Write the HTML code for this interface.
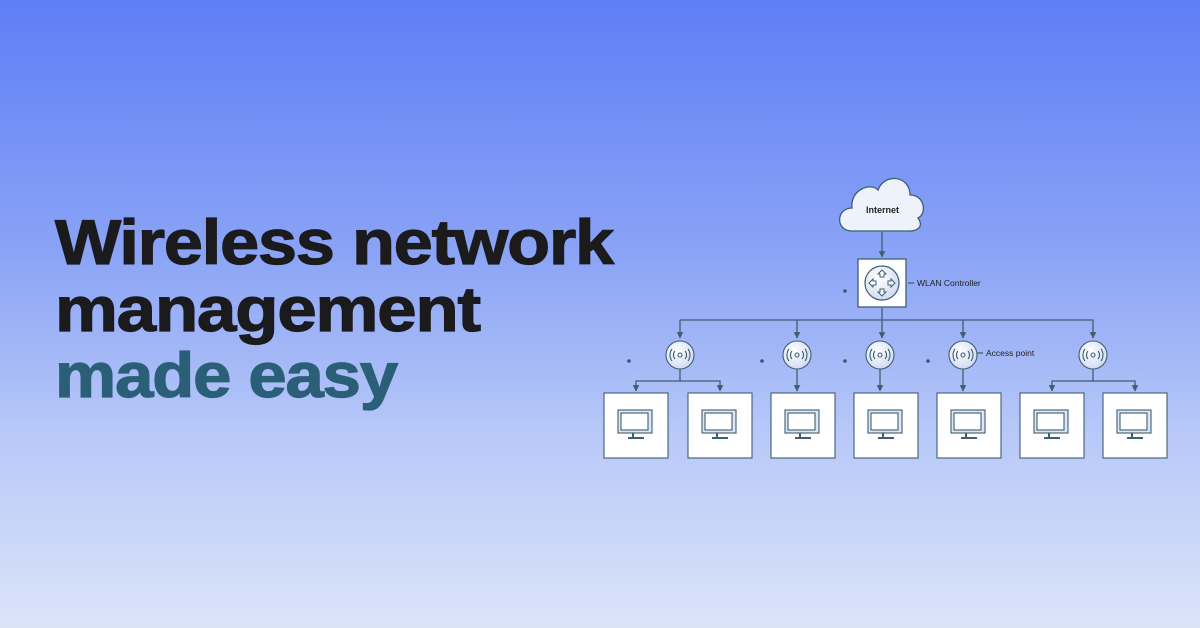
<!DOCTYPE html>
<html><head><meta charset="utf-8"><style>
html,body{margin:0;padding:0}
body{width:1200px;height:628px;overflow:hidden;background:linear-gradient(180deg,#5e7ef6 0%,#8aa3f6 40%,#b9c9f8 70%,#dbe4f9 100%);font-family:"Liberation Sans",sans-serif}
</style></head><body>
<svg width="1200" height="628" viewBox="0 0 1200 628" xmlns="http://www.w3.org/2000/svg" style="position:absolute;left:0;top:0">
<defs>
<marker id="a" viewBox="0 0 10 10" refX="9" refY="5" markerWidth="5" markerHeight="5" orient="auto"><path d="M0,0L10,5L0,10z" fill="#3d5f70"/></marker>
<radialGradient id="g" cx="0.4" cy="0.35" r="0.7"><stop offset="0" stop-color="#ffffff"/><stop offset="1" stop-color="#cfd9f2"/></radialGradient>
</defs>
<g font-family="Liberation Sans, sans-serif" font-weight="bold" font-size="63" letter-spacing="-1" stroke-width="1.2">
<text x="55" y="264" fill="#1b1a1c" stroke="#1b1a1c" textLength="558" lengthAdjust="spacingAndGlyphs">Wireless network</text>
<text x="55" y="331" fill="#1b1a1c" stroke="#1b1a1c" textLength="425" lengthAdjust="spacingAndGlyphs">management</text>
<text x="55" y="397" fill="#2b5f77" stroke="#2b5f77" textLength="342" lengthAdjust="spacingAndGlyphs">made easy</text>
</g>
<g stroke="#3d5f70" stroke-width="1.3" fill="none">
<path d="M852,231 C835,231 836,208 852,208 C850,190 870,182 878,190 C884,173 910,175 910,195 C925,195 927,214 918,218 C925,228 915,231 910,231 Z" fill="#eef2fb"/>
<line x1="882" y1="232" x2="882" y2="257" marker-end="url(#a)"/>
<rect x="858" y="259" width="48" height="48" fill="#fff"/>
<line x1="908" y1="283" x2="914" y2="283"/>
<line x1="882" y1="308" x2="882" y2="338" marker-end="url(#a)"/>
<path d="M680,320 H1093 V338" marker-end="url(#a)"/>
<line x1="680" y1="320" x2="680" y2="338" marker-end="url(#a)"/>
<line x1="797" y1="320" x2="797" y2="338" marker-end="url(#a)"/>
<line x1="963" y1="320" x2="963" y2="338" marker-end="url(#a)"/>
<line x1="977" y1="353" x2="983" y2="353"/>
<path d="M680,369 V381 H636 V391" marker-end="url(#a)"/>
<path d="M680,381 H720 V391" marker-end="url(#a)"/>
<line x1="797" y1="369" x2="797" y2="391" marker-end="url(#a)"/>
<line x1="880" y1="369" x2="880" y2="391" marker-end="url(#a)"/>
<line x1="963" y1="369" x2="963" y2="391" marker-end="url(#a)"/>
<path d="M1093,369 V381 H1052 V391" marker-end="url(#a)"/>
<path d="M1093,381 H1135 V391" marker-end="url(#a)"/>
</g>
<circle cx="882" cy="283" r="17" fill="url(#g)" stroke="#3d5f70" stroke-width="1.2"/>
<g fill="#fff" stroke="#3d5f70" stroke-width="1">
<path d="M882,270 l4,4 h-2 v3 h-4 v-3 h-2z"/><path d="M882,296 l4,-4 h-2 v-3 h-4 v3 h-2z"/>
<path d="M869,283 l4,-4 v2 h3 v4 h-3 v2z"/><path d="M895,283 l-4,-4 v2 h-3 v4 h3 v2z"/>
</g>
<g font-family="Liberation Sans, sans-serif" font-size="8.5" fill="#222">
<text x="866" y="213" font-weight="bold" font-size="9">Internet</text>
<text x="917" y="286">WLAN Controller</text>
<text x="986" y="356">Access point</text>
</g>
<g fill="#2f5f6f"><circle cx="845" cy="291" r="1.8"/><circle cx="629" cy="361" r="1.8"/><circle cx="762" cy="361" r="1.8"/><circle cx="845" cy="361" r="1.8"/><circle cx="928" cy="361" r="1.8"/></g>
<g stroke="#3d5f70" fill="none" stroke-width="1.1">
<g transform="translate(680,355)"><circle r="14" fill="url(#g)"/><circle r="2"/><path d="M-5,-4a6,6 0 0 0 0,8M5,-4a6,6 0 0 1 0,8M-8,-6a10,10 0 0 0 0,12M8,-6a10,10 0 0 1 0,12"/></g>
<g transform="translate(797,355)"><circle r="14" fill="url(#g)"/><circle r="2"/><path d="M-5,-4a6,6 0 0 0 0,8M5,-4a6,6 0 0 1 0,8M-8,-6a10,10 0 0 0 0,12M8,-6a10,10 0 0 1 0,12"/></g>
<g transform="translate(880,355)"><circle r="14" fill="url(#g)"/><circle r="2"/><path d="M-5,-4a6,6 0 0 0 0,8M5,-4a6,6 0 0 1 0,8M-8,-6a10,10 0 0 0 0,12M8,-6a10,10 0 0 1 0,12"/></g>
<g transform="translate(963,355)"><circle r="14" fill="url(#g)"/><circle r="2"/><path d="M-5,-4a6,6 0 0 0 0,8M5,-4a6,6 0 0 1 0,8M-8,-6a10,10 0 0 0 0,12M8,-6a10,10 0 0 1 0,12"/></g>
<g transform="translate(1093,355)"><circle r="14" fill="url(#g)"/><circle r="2"/><path d="M-5,-4a6,6 0 0 0 0,8M5,-4a6,6 0 0 1 0,8M-8,-6a10,10 0 0 0 0,12M8,-6a10,10 0 0 1 0,12"/></g>
</g>
<g stroke="#3d5f70" stroke-width="1.1">
<g transform="translate(604,393)"><rect width="64" height="65" fill="#fff"/><rect x="14" y="17" width="34" height="23" fill="#dfe7f6"/><rect x="17" y="20" width="27" height="17" fill="#fff"/><path d="M29,40v4M24,45h16" fill="none" stroke-width="2"/></g>
<g transform="translate(688,393)"><rect width="64" height="65" fill="#fff"/><rect x="14" y="17" width="34" height="23" fill="#dfe7f6"/><rect x="17" y="20" width="27" height="17" fill="#fff"/><path d="M29,40v4M24,45h16" fill="none" stroke-width="2"/></g>
<g transform="translate(771,393)"><rect width="64" height="65" fill="#fff"/><rect x="14" y="17" width="34" height="23" fill="#dfe7f6"/><rect x="17" y="20" width="27" height="17" fill="#fff"/><path d="M29,40v4M24,45h16" fill="none" stroke-width="2"/></g>
<g transform="translate(854,393)"><rect width="64" height="65" fill="#fff"/><rect x="14" y="17" width="34" height="23" fill="#dfe7f6"/><rect x="17" y="20" width="27" height="17" fill="#fff"/><path d="M29,40v4M24,45h16" fill="none" stroke-width="2"/></g>
<g transform="translate(937,393)"><rect width="64" height="65" fill="#fff"/><rect x="14" y="17" width="34" height="23" fill="#dfe7f6"/><rect x="17" y="20" width="27" height="17" fill="#fff"/><path d="M29,40v4M24,45h16" fill="none" stroke-width="2"/></g>
<g transform="translate(1020,393)"><rect width="64" height="65" fill="#fff"/><rect x="14" y="17" width="34" height="23" fill="#dfe7f6"/><rect x="17" y="20" width="27" height="17" fill="#fff"/><path d="M29,40v4M24,45h16" fill="none" stroke-width="2"/></g>
<g transform="translate(1103,393)"><rect width="64" height="65" fill="#fff"/><rect x="14" y="17" width="34" height="23" fill="#dfe7f6"/><rect x="17" y="20" width="27" height="17" fill="#fff"/><path d="M29,40v4M24,45h16" fill="none" stroke-width="2"/></g>
</g>
</svg>
</body></html>
